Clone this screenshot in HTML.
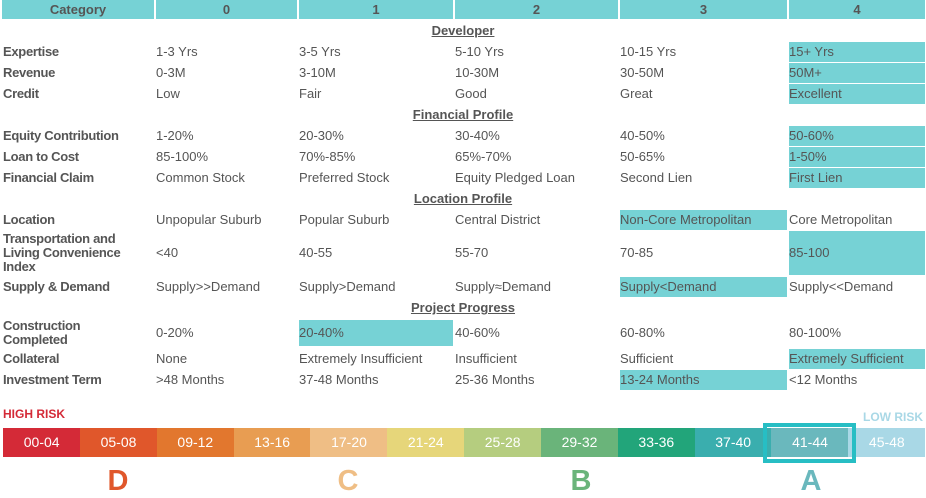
<!DOCTYPE html>
<html><head><meta charset="utf-8"><style>
body{margin:0;width:926px;height:494px;background:#fff;font-family:"Liberation Sans",sans-serif;color:#555;position:relative;overflow:hidden}
.a{position:absolute;white-space:nowrap}
.h{position:absolute;top:0;height:19px;background:#76d2d5;font-weight:bold;font-size:13px;text-align:center;line-height:20px;color:#555}
.sec{position:absolute;left:0;width:926px;text-align:center;font-weight:bold;font-size:13px;text-decoration:underline}
.lab{font-weight:bold;font-size:13px;left:3px;letter-spacing:-0.3px}
.c{font-size:13px}
.hl{position:absolute;background:#76d2d5}
.seg{position:absolute;top:428px;height:29px;color:#fff;font-size:14px;text-align:center;line-height:29px}
.L{position:absolute;top:465px;font-size:29px;font-weight:bold;text-align:center;width:40px}
</style></head><body>
<div id="root"></div>
<script>
const root=document.body;
const colX=[156,299,455,620,789];
const colW=[141,154,163,167,136];
const headers=["Category","0","1","2","3","4"];
const hx=[2,156,299,455,620,789], hw=[152,141,154,163,167,136];
headers.forEach((t,i)=>{const d=document.createElement('div');d.className='h';d.style.left=hx[i]+'px';d.style.width=hw[i]+'px';d.textContent=t;

root.appendChild(d);});
const sections=[["Developer",31],["Financial Profile",115],["Location Profile",199],["Project Progress",308]];
sections.forEach(s=>{const d=document.createElement('div');d.className='sec';d.style.top=(s[1]-8)+'px';d.textContent=s[0];

root.appendChild(d);});
// [label, centerY, top, height, highlightCol, values]
const rows=[
["Expertise",52,42,20,4,["1-3 Yrs","3-5 Yrs","5-10 Yrs","10-15 Yrs","15+ Yrs"]],
["Revenue",73,63,20,4,["0-3M","3-10M","10-30M","30-50M","50M+"]],
["Credit",94,84,20,4,["Low","Fair","Good","Great","Excellent"]],
["Equity Contribution",136,126,20,4,["1-20%","20-30%","30-40%","40-50%","50-60%"]],
["Loan to Cost",157,147,20,4,["85-100%","70%-85%","65%-70%","50-65%","1-50%"]],
["Financial Claim",178,168,20,4,["Common Stock","Preferred Stock","Equity Pledged Loan","Second Lien","First Lien"]],
["Location",220,210,20,3,["Unpopular Suburb","Popular Suburb","Central District","Non-Core Metropolitan","Core Metropolitan"]],
["Transportation and<br>Living Convenience<br>Index",253,231,44,4,["<40","40-55","55-70","70-85","85-100"]],
["Supply & Demand",287,277,20,3,["Supply>>Demand","Supply>Demand","Supply≈Demand","Supply<Demand","Supply<<Demand"]],
["Construction<br>Completed",333,320,26,1,["0-20%","20-40%","40-60%","60-80%","80-100%"]],
["Collateral",359,349,20,4,["None","Extremely Insufficient","Insufficient","Sufficient","Extremely Sufficient"]],
["Investment Term",380,370,20,3,[">48 Months","37-48 Months","25-36 Months","13-24 Months","<12 Months"]]
];
rows.forEach(r=>{
 const slug=r[0].replace(/<br>/g,' ').toLowerCase().replace(/[^a-z]+/g,'-').replace(/-$/,'');
 const hl=document.createElement('div');hl.className='hl';
 hl.style.left=colX[r[4]]+'px';hl.style.width=colW[r[4]]+'px';hl.style.top=r[2]+'px';hl.style.height=r[3]+'px';
 
 root.appendChild(hl);
 const n=(r[0].match(/<br>/g)||[]).length+1;
 const l=document.createElement('div');l.className='a lab';l.innerHTML=r[0];l.style.lineHeight='14px';l.style.top=(r[1]-n*7)+'px';
 
 root.appendChild(l);
 r[5].forEach((v,i)=>{const c=document.createElement('div');c.className='a c';c.textContent=v;c.style.left=colX[i]+'px';c.style.top=(r[1]-8)+'px';
 
 root.appendChild(c);});
});
const segLabels=["00-04","05-08","09-12","13-16","17-20","21-24","25-28","29-32","33-36","37-40","41-44","45-48"];
const segColors=["#d42a37","#e0572b","#e2772e","#e89d52","#efbe85","#e6d67a","#b5cd7f","#6ab47a","#22a57a","#3aaeae","#6ab8bd","#a9d8e6"];
const sw=(925-3)/12;
segLabels.forEach((t,i)=>{const d=document.createElement('div');d.className='seg';d.style.left=(3+i*sw)+'px';d.style.width=(sw+0.5)+'px';d.style.background=segColors[i];d.textContent=t;

root.appendChild(d);});
const sel=10;
const box=document.createElement('div');box.style.cssText='position:absolute;top:423px;height:32px;border:4px solid #27bec4;';box.style.left=(3+sel*sw-8)+'px';box.style.width=(sw+8)+'px';

root.appendChild(box);
const grades=[["D",118,"#e0572b"],["C",348,"#efbe85"],["B",581,"#6ab47a"],["A",811,"#6ab8bd"]];
grades.forEach(g=>{const d=document.createElement('div');d.className='L';d.style.left=(g[1]-20)+'px';d.style.color=g[2];d.textContent=g[0];

root.appendChild(d);});
</script>
<div class="a" style="left:3px;top:407px;font-size:12px;font-weight:bold;color:#d42a37">HIGH RISK</div>
<div class="a" style="right:3px;top:410px;font-size:12px;font-weight:bold;color:#a9d8e6">LOW RISK</div>
</body></html>
